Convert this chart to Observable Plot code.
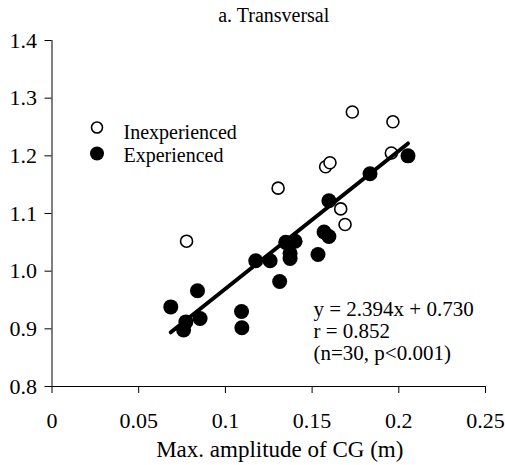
<!DOCTYPE html>
<html><head><meta charset="utf-8">
<script src="https://cdn.jsdelivr.net/npm/d3@7"></script>
<script src="https://cdn.jsdelivr.net/npm/@observablehq/plot@0.6"></script>
<style>html,body{margin:0;padding:0;background:#fff;}</style>
</head><body><div id="chart"></div>
<script>
const title = "a. Transversal";
const xLabel = "Max. amplitude of CG (m)";
const xTicks = [0, 0.05, 0.1, 0.15, 0.2, 0.25];
const yTicks = [0.8, 0.9, 1.0, 1.1, 1.2, 1.3, 1.4];
const groups = ["Inexperienced", "Experienced"];
const inexpX = [0.0776, 0.1304, 0.1578, 0.1603, 0.1665, 0.1690, 0.1957, 0.1732, 0.1966];
const inexpY = [1.052, 1.144, 1.181, 1.188, 1.108, 1.081, 1.205, 1.276, 1.259];
const expX = [0.2053, 0.1834, 0.1597, 0.1569, 0.1597, 0.1534, 0.1348, 0.1402, 0.1373, 0.1373,
              0.1175, 0.1258, 0.1313, 0.0839, 0.0685, 0.1093, 0.1095, 0.0854, 0.0772, 0.0759];
const expY = [1.200, 1.169, 1.122, 1.068, 1.060, 1.029, 1.050, 1.052, 1.031, 1.022,
              1.018, 1.018, 0.982, 0.966, 0.938, 0.930, 0.902, 0.918, 0.912, 0.898];
const fitSlope = 2.394, fitIntercept = 0.730;
const statsLines = ["y = 2.394x + 0.730", "r = 0.852", "(n=30, p<0.001)"];

const inexp = inexpX.map((x, i) => ({x, y: inexpY[i]}));
const exp = expX.map((x, i) => ({x, y: expY[i]}));
const [fx0, fx1] = d3.extent([...inexpX, ...expX]);
const fit = [fx0, fx1].map(x => ({x, y: fitSlope * x + fitIntercept}));

const font = "'Liberation Serif', 'Times New Roman', serif";
const tickFs = 22, titleFs = 20, labelFs = 23, legendFs = 20, statsFs = 21;

const chart = Plot.plot({
  width: 505, height: 465,
  marginLeft: 51.5, marginRight: 20, marginTop: 40, marginBottom: 79,
  style: {fontFamily: font, fontSize: "20px", background: "#fff", color: "#000", overflow: "visible"},
  x: {domain: [0, 0.25]},
  y: {domain: [0.8, 1.4]},
  marks: [
    Plot.ruleX([0], {y1: 0.8, y2: 1.4, stroke: "#000", strokeWidth: 1}),
    Plot.ruleY([0.8], {x1: 0, x2: 0.25, stroke: "#000", strokeWidth: 1}),
    Plot.axisX(xTicks, {tickSize: 7, tickPadding: 19, tickFormat: d3.format("~g"), label: null, fontSize: tickFs, stroke: "#000", fill: "#000"}),
    Plot.axisY(yTicks, {tickSize: 7, tickPadding: 8, tickFormat: d3.format(".1f"), label: null, fontSize: tickFs, stroke: "#000", fill: "#000"}),
    Plot.dot(inexp, {x: "x", y: "y", r: 6, fill: "#fff", stroke: "#000", strokeWidth: 1.6}),
    Plot.line(fit, {x: "x", y: "y", stroke: "#000", strokeWidth: 4}),
    Plot.dot(exp, {x: "x", y: "y", r: 7.5, fill: "#000", stroke: "none"}),
    Plot.text([title], {text: d => d, frameAnchor: "top", lineAnchor: "bottom", dx: 5, dy: -19, fontSize: titleFs, fill: "#000"}),
    Plot.text([xLabel], {text: d => d, frameAnchor: "bottom", lineAnchor: "bottom", dx: 11, dy: 70.7, fontSize: labelFs, fill: "#000"}),
    Plot.dot([groups[0]], {frameAnchor: "top-left", dx: 45, dy: 87, r: 5.5, fill: "#fff", stroke: "#000", strokeWidth: 1.6}),
    Plot.dot([groups[1]], {frameAnchor: "top-left", dx: 45, dy: 113, r: 7, fill: "#000", stroke: "none"}),
    Plot.text([groups[0]], {text: d => d, frameAnchor: "top-left", textAnchor: "start", lineAnchor: "bottom", dx: 71.5, dy: 98.3, fontSize: legendFs, fill: "#000"}),
    Plot.text([groups[1]], {text: d => d, frameAnchor: "top-left", textAnchor: "start", lineAnchor: "bottom", dx: 71.5, dy: 121.7, fontSize: legendFs, fill: "#000"}),
    Plot.text([statsLines.join("\n")], {text: d => d, frameAnchor: "top-left", textAnchor: "start", lineAnchor: "top", lineHeight: 1.07, dx: 261.5, dy: 274 - 0.71 * statsFs, fontSize: statsFs, fill: "#000"})
  ]
});
document.getElementById("chart").appendChild(chart);
</script>
</body></html>
